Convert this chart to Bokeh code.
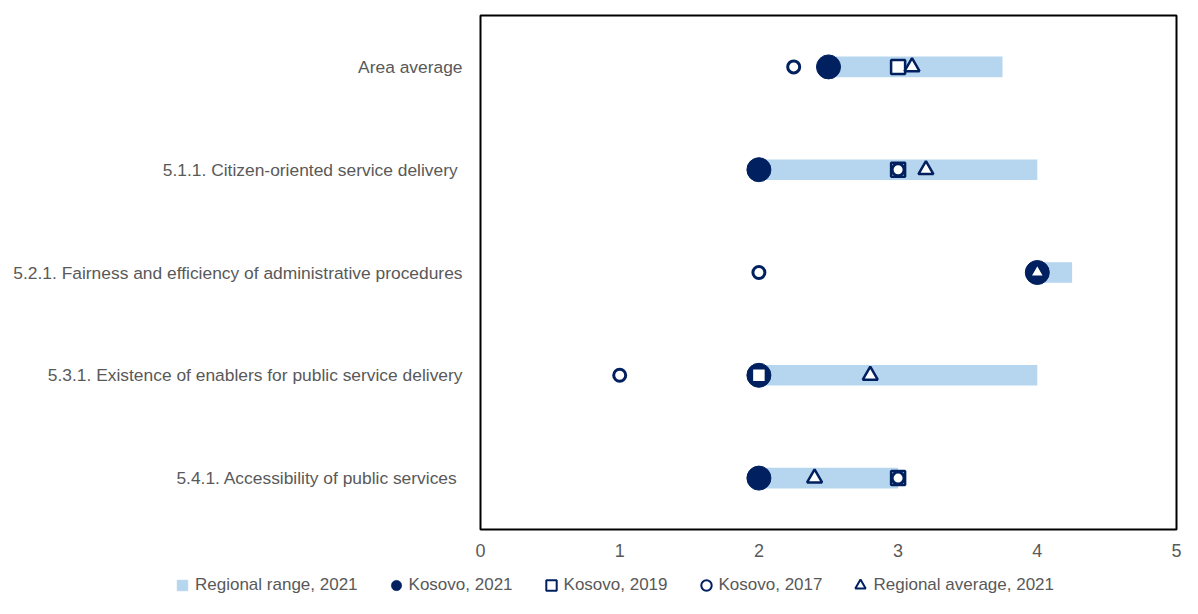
from bokeh.plotting import figure
from bokeh.models import FactorRange, Legend, LegendItem, FixedTicker, ColumnDataSource, Range1d
from bokeh.layouts import column
from bokeh.embed import file_html
from bokeh.resources import INLINE
import numpy as np

categories = [
    "Area average",
    "5.1.1. Citizen-oriented service delivery ",
    "5.2.1. Fairness and efficiency of administrative procedures",
    "5.3.1. Existence of enablers for public service delivery",
    "5.4.1. Accessibility of public services ",
]
range_min = [2.5, 2.0, 4.0, 2.0, 2.0]
range_max = [3.75, 4.0, 4.25, 4.0, 3.0]
kosovo_2021 = [2.5, 2.0, 4.0, 2.0, 2.0]
kosovo_2019 = [3.0, 3.0, np.nan, 2.0, 3.0]
kosovo_2017 = [2.25, 3.0, 2.0, 1.0, 3.0]
regional_avg = [3.1, 3.2, 4.0, 2.8, 2.4]
x_ticks = [0, 1, 2, 3, 4, 5]
legend_labels = ["Regional range, 2021", "Kosovo, 2021", "Kosovo, 2019",
                 "Kosovo, 2017", "Regional average, 2021"]

NAVY = "#002060"
LIGHT = "#B6D5EF"
GRAY = "#595959"
FONT = "Liberation Sans"

src = ColumnDataSource(dict(cat=categories, lo=range_min, hi=range_max,
                            k21=kosovo_2021, k19=kosovo_2019, k17=kosovo_2017, avg=regional_avg))

styles = [
    dict(kind="bar", fill_color=LIGHT, line_color=None),
    dict(kind="scatter", marker="circle", size=24, fill_color=NAVY, line_color=NAVY, line_width=1),
    dict(kind="scatter", marker="square", size=14, fill_color="white", line_color=NAVY, line_width=2.5),
    dict(kind="scatter", marker="circle", size=12, fill_color="white", line_color=NAVY, line_width=3),
    dict(kind="scatter", marker="triangle", size=15, fill_color="white", line_color=NAVY, line_width=2.5),
]
xcols = [("lo", "hi"), "k21", "k19", "k17", "avg"]


def draw(fig, legend_mode=False):
    rs = []
    for st, xc in zip(styles, xcols):
        kw = {k: v for k, v in st.items() if k != "kind"}
        if st["kind"] == "bar":
            if legend_mode:
                rs.append(fig.scatter(x=xc[0], y="cat", source=src, marker="square", size=12,
                                      fill_color=LIGHT, line_color=LIGHT, line_width=1))
            else:
                rs.append(fig.hbar(y="cat", left=xc[0], right=xc[1], height=0.2, source=src, **kw))
        else:
            if legend_mode and st["marker"] == "circle" and st["fill_color"] == NAVY:
                kw = dict(kw, line_width=0.5)
            if legend_mode and st["fill_color"] == "white":
                kw = dict(kw, line_width=2)
            rs.append(fig.scatter(x=xc, y="cat", source=src, **kw))
    return rs


p = figure(width=1182, height=566, output_backend="svg", toolbar_location=None,
           y_range=FactorRange(factors=categories[::-1]), x_range=(0, 5),
           min_border_left=480, min_border_right=6, min_border_top=15, min_border_bottom=37)

draw(p)

p.outline_line_color = "black"
p.outline_line_width = 2
p.xgrid.visible = False
p.ygrid.visible = False

p.xaxis.ticker = FixedTicker(ticks=x_ticks)
p.xaxis.axis_line_color = None
p.xaxis.major_tick_line_color = None
p.xaxis.minor_tick_line_color = None
p.xaxis.major_tick_out = 0
p.xaxis.major_tick_in = 0
p.xaxis.major_label_standoff = 14
p.xaxis.major_label_text_font = FONT
p.xaxis.major_label_text_font_size = "18px"
p.xaxis.major_label_text_color = GRAY

p.yaxis.axis_line_color = None
p.yaxis.major_tick_line_color = None
p.yaxis.minor_tick_line_color = None
p.yaxis.major_tick_out = 0
p.yaxis.major_tick_in = 0
p.yaxis.major_label_standoff = 18
p.yaxis.major_label_text_font = FONT
p.yaxis.major_label_text_font_size = "17.4px"
p.yaxis.major_label_text_color = GRAY

# legend strip: separate figure spanning the full width; its view range keeps
# the (shared) data out of sight so only the legend shows
lg = figure(width=1182, height=32, output_backend="svg", toolbar_location=None,
            x_range=Range1d(-10, -9), y_range=FactorRange(factors=categories[::-1]),
            min_border=0, min_border_left=0, min_border_right=0,
            min_border_top=0, min_border_bottom=0)
lg.axis.visible = False
lg.grid.visible = False
lg.outline_line_color = None
lrs = draw(lg, legend_mode=True)

for fig in (p, lg):
    if "frame_align" in fig.properties():
        fig.frame_align = False

legend = Legend(items=[LegendItem(label=lab, renderers=[r]) for lab, r in zip(legend_labels, lrs)],
                orientation="horizontal", location=(169, 0))
legend.border_line_color = None
legend.background_fill_alpha = 0
legend.label_text_font = FONT
legend.label_text_font_size = "17px"
legend.label_text_color = GRAY
legend.glyph_width = 26
legend.glyph_height = 26
legend.label_standoff = 0
legend.spacing = 25
legend.padding = 3
legend.margin = 0
lg.add_layout(legend, "center")

layout = column(p, lg, spacing=0)
open("out.html", "w").write(file_html(layout, INLINE))
